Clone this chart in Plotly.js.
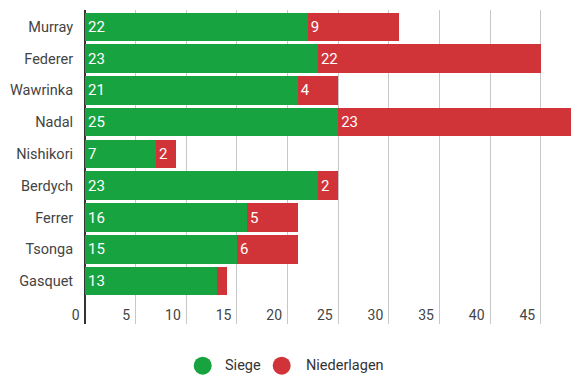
<!DOCTYPE html>
<html>
<head>
<meta charset="utf-8">
<script src="https://cdn.plot.ly/plotly-3.0.1.min.js"></script>
<style>html,body{margin:0;padding:0;background:#fff;}#chart{width:582px;height:384px;}</style>
</head>
<body>
<div id="chart"></div>
<script>
const players = ["Murray", "Federer", "Wawrinka", "Nadal", "Nishikori", "Berdych", "Ferrer", "Tsonga", "Gasquet"];
const siege = [22, 23, 21, 25, 7, 23, 16, 15, 13];
const niederlagen = [9, 22, 4, 23, 2, 2, 5, 6, 1];
const xTicks = [0, 5, 10, 15, 20, 25, 30, 35, 40, 45];
const seriesNames = ["Siege", "Niederlagen"];

const green = "#17a340";
const red = "#d13438";
const font = "Roboto, 'Noto Sans', sans-serif";

const barCommon = {
  type: "bar",
  orientation: "h",
  y: players,
  textposition: "inside",
  insidetextanchor: "start",
  textangle: 0,
  textfont: {family: font, size: 15, color: "#ffffff"},
  showlegend: false,
  hoverinfo: "x+y"
};

const traces = [
  Object.assign({}, barCommon, {name: seriesNames[0], x: siege, text: siege.map(String), marker: {color: green}}),
  Object.assign({}, barCommon, {name: seriesNames[1], x: niederlagen, text: niederlagen.map(String), marker: {color: red}})
];

// manual legend (circles + labels) placed in paper coordinates
const legendColors = [green, red];
const legendCircleX = [0.2422, 0.4047];
const legendTextX = [0.2833, 0.4506];
const legendY = -0.1328;

const shapes = legendColors.map((c, i) => ({
  type: "circle",
  xref: "paper", yref: "paper",
  xsizemode: "pixel", ysizemode: "pixel",
  xanchor: legendCircleX[i], yanchor: legendY,
  x0: -9, x1: 9, y0: -9, y1: 9,
  fillcolor: c,
  line: {width: 0}
}));

const annotations = seriesNames.map((n, i) => ({
  xref: "paper", yref: "paper",
  x: legendTextX[i], y: legendY,
  xanchor: "left", yanchor: "middle",
  text: n,
  showarrow: false,
  font: {family: font, size: 14.5, color: "#333333"}
}));

const layout = {
  width: 582,
  height: 384,
  margin: {l: 85, r: 11, t: 10, b: 60},
  barmode: "stack",
  bargap: 0.1,
  paper_bgcolor: "#ffffff",
  plot_bgcolor: "#ffffff",
  font: {family: font, size: 14, color: "#444444"},
  uniformtext: {mode: "hide", minsize: 15},
  showlegend: false,
  shapes: shapes,
  annotations: annotations,
  xaxis: {
    range: [0, 48],
    tickvals: xTicks,
    ticktext: xTicks.map(v => String(v) + "\u00a0"),
    showgrid: true,
    gridcolor: "#c8c8c8",
    gridwidth: 1,
    zeroline: true,
    zerolinecolor: "#333333",
    zerolinewidth: 2,
    ticks: "",
    ticklabelposition: "inside left",
    ticklabeloverflow: "allow",
    ticklabelstandoff: -5,
    ticklabelshift: -2,
    tickfont: {family: font, size: 14, color: "#444444"},
    automargin: false,
    fixedrange: true
  },
  yaxis: {
    type: "category",
    categoryorder: "array",
    categoryarray: players,
    range: [9.35, -0.53],
    showgrid: false,
    zeroline: false,
    ticks: "outside",
    ticklen: 8,
    tickcolor: "rgba(0,0,0,0)",
    tickfont: {family: font, size: 14.5, color: "#444444"},
    automargin: false,
    fixedrange: true
  }
};

Plotly.newPlot("chart", traces, layout, {displayModeBar: false, staticPlot: true});
</script>
</body>
</html>
